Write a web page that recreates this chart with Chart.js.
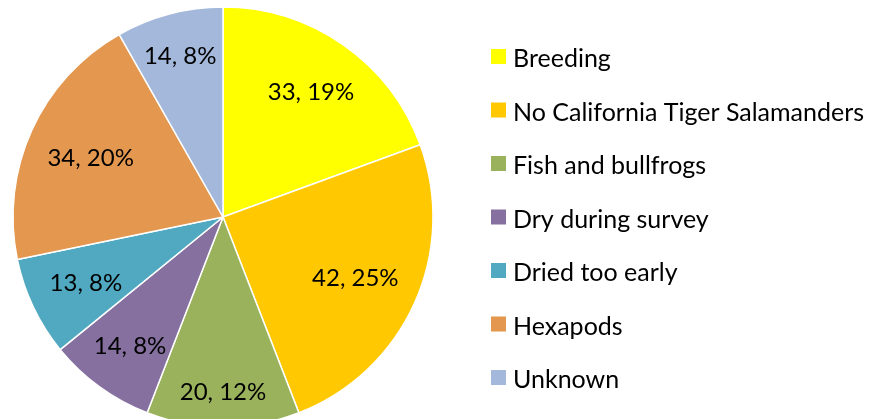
<!DOCTYPE html>
<html>
<head>
<meta charset="utf-8">
<script src="https://cdn.jsdelivr.net/npm/chart.js@4"></script>
<style>
  html, body { margin: 0; padding: 0; background: #fff; overflow: hidden; }
  #wrap { width: 877px; height: 419px; position: relative; }
</style>
</head>
<body>
<div id="wrap"><canvas id="pondChart" width="877" height="419"></canvas></div>
<script>
// ===== DATA =====
const categories = ['Breeding', 'No California Tiger Salamanders', 'Fish and bullfrogs',
    'Dry during survey', 'Dried too early', 'Hexapods', 'Unknown'];
const pondCounts = [33, 42, 20, 14, 13, 34, 14];
const sliceColors = ['#FFFF00', '#FFC800', '#9BB25D', '#85709F', '#50A9C1', '#E3974F', '#A3B8DB'];

// Labels sit inside each slice, pushed out toward the rim
const sliceLabels = {
    id: 'sliceLabels',
    afterDatasetsDraw(chart) {
        const ctx = chart.ctx;
        const values = chart.data.datasets[0].data;
        const total = values.reduce((s, v) => s + v, 0);
        const meta = chart.getDatasetMeta(0);
        ctx.save();
        ctx.font = '24px Lato';
        ctx.fillStyle = '#000';
        ctx.textAlign = 'center';
        ctx.textBaseline = 'middle';
        meta.data.forEach((arc, i) => {
            const text = `${values[i]}, ${Math.round(values[i] / total * 100)}%`;
            const mid = (arc.startAngle + arc.endAngle) / 2;
            const c = Math.abs(Math.cos(mid)), s = Math.abs(Math.sin(mid));
            const w = ctx.measureText(text).width / 2, h = 10;
            const D = arc.outerRadius - 21;
            const b = w * c + h * s;
            const d = -b + Math.sqrt(b * b - (w * w + h * h - D * D));
            ctx.fillText(text, arc.x + d * Math.cos(mid), arc.y + d * Math.sin(mid) + 1);
        });
        ctx.restore();
    }
};

// Legend drawn on the right of the canvas
const sideLegend = {
    id: 'sideLegend',
    afterDraw(chart) {
        const ctx = chart.ctx;
        const colors = chart.data.datasets[0].backgroundColor;
        ctx.save();
        ctx.font = '25px Lato';
        ctx.textBaseline = 'alphabetic';
        ctx.textAlign = 'left';
        chart.data.labels.forEach((label, i) => {
            const base = 67 + i * 53.5;
            ctx.fillStyle = colors[i];
            ctx.fillRect(491, base - 18, 15, 15);
            ctx.fillStyle = '#000';
            ctx.fillText(label, 513, base);
        });
        ctx.restore();
    }
};

new Chart(document.getElementById('pondChart'), {
    type: 'pie',
    data: {
        labels: categories,
        datasets: [{
            data: pondCounts,
            backgroundColor: sliceColors,
            borderColor: '#fff',
            borderWidth: 1.5,
            clip: false
        }]
    },
    options: {
        responsive: false,
        animation: false,
        radius: 210,
        layout: { padding: { left: 0, right: 431, top: 15, bottom: 0 } },
        plugins: {
            legend: { display: false },
            tooltip: { enabled: false }
        }
    },
    plugins: [sliceLabels, sideLegend]
});
</script>
</body>
</html>
